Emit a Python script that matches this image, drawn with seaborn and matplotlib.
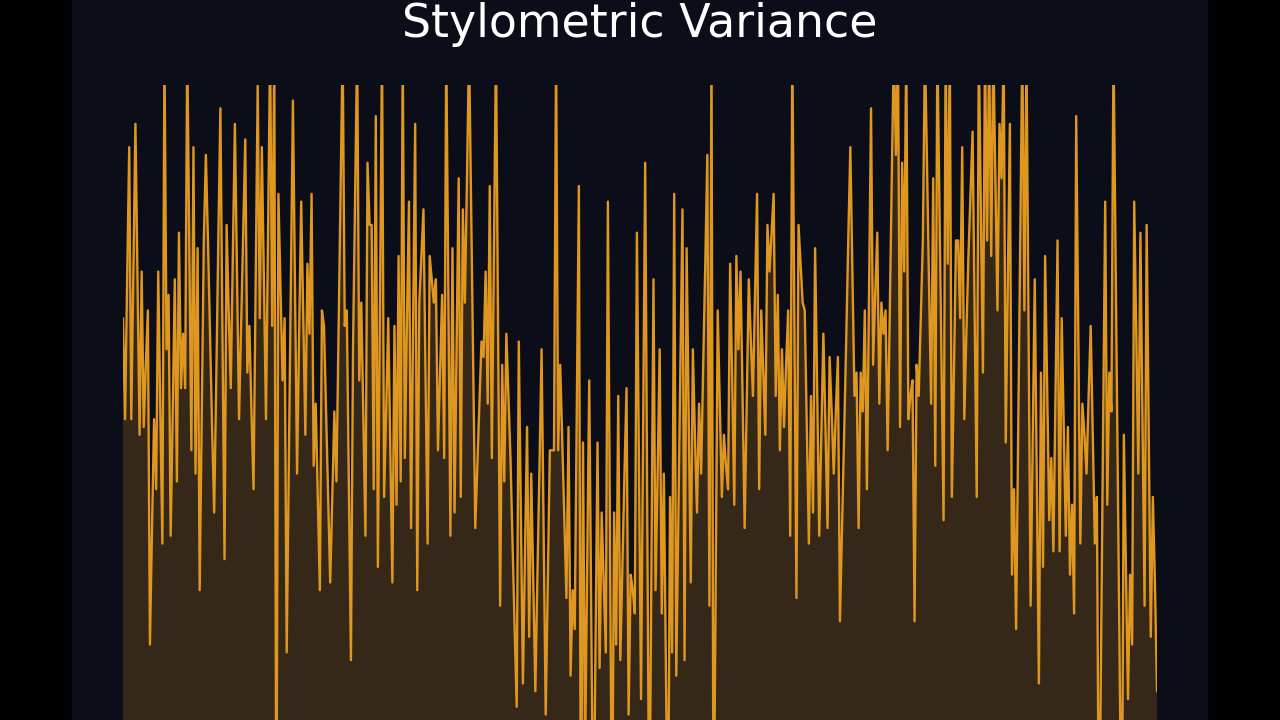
import numpy as np
import pandas as pd
import matplotlib
matplotlib.use("Agg")
import matplotlib.pyplot as plt
import seaborn as sns
from matplotlib.patches import Rectangle

# variance readings (values above 100 run off the top of the plot)
v_part1 = [70, 57, 75, 92, 57, 76, 95, 75, 55, 76, 56, 64, 71, 28, 43, 57, 48, 76, 58, 41,
           105, 66, 73, 42, 58, 75, 49, 81, 61, 68, 61, 105, 79, 53, 92, 50, 79, 35, 57, 80,
           91, 80, 68, 56, 45, 62, 80, 97, 68, 39, 82, 71, 61, 78, 95, 76, 57, 69, 81, 93,
           63, 69, 58, 48, 74, 100, 70, 92, 75, 57, 81, 105, 69, 105, -2, 86, 74, 62, 70, 27,
           51, 75, 98, 74, 50, 68, 85, 70, 55, 77, 68, 86, 51, 59, 47, 35, 71, 69, 58, 47,
           36, 47, 58, 49, 68, 87, 105, 69, 71, 48, 26, 66, 86, 105, 62, 72, 57, 42, 90, 82,
           82, 48, 96, 38, 72, 105]
v_part2 = [47, 58, 70, 53, 36, 69, 46, 78, 49, 105, 52, 69, 85, 43, 69, 95, 35, 72, 78, 84,
           63, 41, 78, 75, 72, 75, 53, 63, 73, 52, 105, 74, 42, 79, 45, 66, 88, 47, 84, 72,
           88, 105, 85, 64, 43, 51, 59, 67, 65, 76, 59, 87, 52, 78, 105, 69, 33, 64, 49, 68,
           60, 52, 41, 30, 20, 67, 45, 23, 40, 56, 29, 50, 36, 22, 37, 51, 66, 43, 19, 36,
           53, 53, 53, 105, 53, 64, 54, 44, 34, 56, 24, 35, 30, 58, 87, -2, 54, 14, 38, 62,
           31, 0, 27, 54, 25, 45, 36, 27, 85, 42, 0, 45, 28, 60, 26, 38, 50, 61, 19, 37,
           35, 32, 81, 51, 21]
v_part3 = [55, 90, 45, 0, 38, 75, 35, 50, 66, 32, 50, 25, 0, 47, 27, 86, 24, 44, 64, 84,
           26, 79, 57, 36, 66, 55, 45, 59, 50, 64, 77, 91, 33, 105, -2, 35, 71, 59, 47, 55,
           51, 48, 77, 62, 46, 78, 66, 76, 60, 43, 59, 75, 67, 60, 73, 86, 48, 71, 63, 55,
           82, 76, 81, 86, 60, 73, 53, 66, 56, 64, 71, 42, 105, 70, 34, 82, 77, 72, 71, 56,
           41, 60, 45, 79, 61, 42, 55, 68, 56, 43, 65, 58, 50, 58, 65, 31, 43, 55, 67, 80,
           92, 76, 60, 63, 43, 63, 58, 71, 48, 72, 97, 64, 73, 81, 59, 72, 68, 71, 53, 70,
           88, 105, 91, 105, 56, 90]
v_part4 = [76, 105, 57, 60, 62, 31, 64, 60, 70, 80, 105, 90, 74, 59, 88, 51, 105, 85, 64, 44,
           105, 77, 105, 47, 63, 80, 80, 70, 92, 57, 68, 78, 86, 94, 70, 47, 105, 84, 63, 105,
           80, 105, 78, 105, 88, 71, 95, 88, 105, 54, 75, 95, 37, 48, 30, 55, 80, 105, 71, 105,
           69, 33, 54, 75, 49, 23, 63, 38, 78, 61, 44, 52, 40, 60, 80, 40, 70, 56, 42, 56,
           37, 46, 32, 96, 69, 41, 59, 55, 50, 60, 69, 55, 41, 47, -2, 27, 56, 85, 46, 63,
           58, 105, 78, 52, 25, -2, 55, 38, 21, 37, 28, 85, 68, 50, 81, 57, 33, 82, 56, 29,
           47, 36, 22]

variance = v_part1 + v_part2 + v_part3 + v_part4
step = np.arange(len(variance))
df = pd.DataFrame({"step": step, "variance": variance})

navy = "#0b0d18"
orange = "#df9720"

sns.set_style("dark")
fig = plt.figure(figsize=(12.8, 7.2), dpi=100, facecolor="black")
fig.patches.append(Rectangle((72 / 1280, 0), 1136 / 1280, 1, transform=fig.transFigure,
                             facecolor=navy, edgecolor="none", zorder=-5))

ax = fig.add_axes([123 / 1280, 0, 1034 / 1280, 1 - 85 / 720])
ax.set_zorder(2)
ax.set_facecolor("none")
ax.fill_between(df["step"], df["variance"], -10, color=orange, alpha=0.2, linewidth=0)
sns.lineplot(data=df, x="step", y="variance", color=orange, linewidth=1.7, ax=ax)
ax.set_xlim(0, len(variance) - 1)
ax.set_ylim(18.3, 100)
ax.axis("off")

fig.text(0.5, 1 - 37 / 720, "Stylometric Variance", color="white", fontsize=33,
         ha="center", va="baseline", family="DejaVu Sans", zorder=3)

fig.savefig("out.png", dpi=100, facecolor="black")
